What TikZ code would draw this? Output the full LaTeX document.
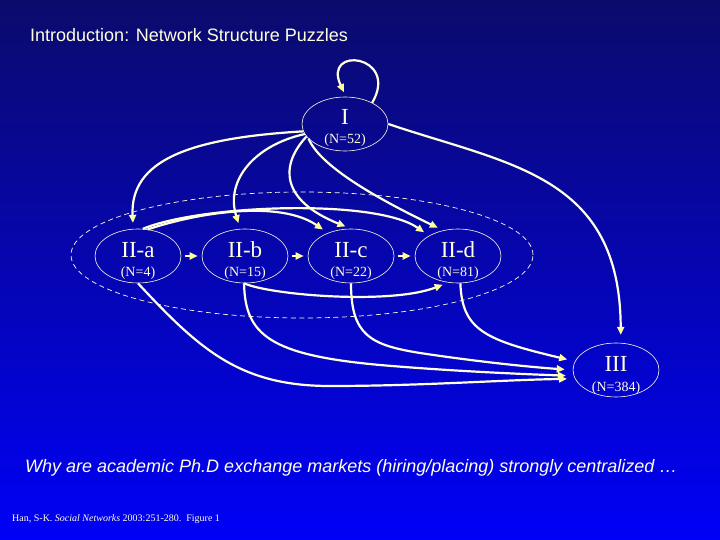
\documentclass[tikz,border=0pt]{standalone}
\usepackage{fontspec}
\setmainfont{Liberation Serif}
\setsansfont{Liberation Sans}
\usetikzlibrary{shapes.geometric,arrows.meta}

\definecolor{puzzlenuit}{HTML}{0B0B6C}
\definecolor{puzzlebleu}{HTML}{0000F8}
\definecolor{puzzlecreme}{HTML}{FFFFE0}
\definecolor{puzzlejaune}{HTML}{FFFF99}

\begin{document}
\begin{tikzpicture}[x=1pt, y=-1pt,
  etat/.style={ellipse, draw=puzzlecreme, line width=0.6pt, minimum width=86pt,
      minimum height=54pt, inner sep=0pt, text=puzzlecreme,
      font=\fontsize{23}{23}\selectfont, text height=8pt, text depth=6pt},
  compte/.style={anchor=base, inner sep=0pt, text=puzzlecreme,
      font=\fontsize{14}{14}\selectfont},
  groupe/.style={ellipse, draw=puzzlecreme, line width=0.7pt,
      dash pattern=on 5pt off 3.5pt, minimum width=462pt, minimum height=126pt, inner sep=0pt},
  fleche/.style={draw=puzzlecreme, line width=2.2pt, shorten >=6pt,
      -{Triangle[length=8pt, width=7pt, color=puzzlejaune]}},
  courte/.style={fleche, line width=1.8pt, shorten <=4pt, shorten >=4pt},
  versIII/.style={fleche, shorten >=8pt},
  ecrit/.style={anchor=base west, inner sep=0pt, text=puzzlecreme}]

\shade[top color=puzzlenuit, bottom color=puzzlebleu] (0,0) rectangle (720,540);

\node[ecrit, font=\sffamily\fontsize{18}{18}\selectfont] (titre) at (30,42)
  {Introduction: Network Structure Puzzles};

\node[groupe] (groupe) at (302,255) {};

\node[etat] (I) at (345,124) {I};
\node[compte] (nI) at ([yshift=-20pt]I.center) {(N=52)};
\node[etat] (IIa) at (138,256) {II-a};
\node[compte] (nIIa) at ([yshift=-20pt]IIa.center) {(N=4)};
\node[etat] (IIb) at (245,256) {II-b};
\node[compte] (nIIb) at ([yshift=-20pt]IIb.center) {(N=15)};
\node[etat] (IIc) at (351,256) {II-c};
\node[compte] (nIIc) at ([yshift=-20pt]IIc.center) {(N=22)};
\node[etat] (IId) at (458,256) {II-d};
\node[compte] (nIId) at ([yshift=-20pt]IId.center) {(N=81)};
\node[etat] (III) at (616,370) {III};
\node[compte] (nIII) at ([yshift=-21pt]III.center) {(N=384)};

\draw[fleche, shorten >=5pt] (I.38) .. controls (400,55) and (322,45) .. (I.88);
\draw[fleche] (I.190) .. controls (190,138) and (130,160) .. (IIa.100);
\draw[fleche] (I.194) .. controls (255,145) and (225,180) .. (IIb.100);
\draw[fleche] (I.198) .. controls (280,165) and (280,200) .. (IIc.north);
\draw[fleche] (I.202) .. controls (320,165) and (370,195) .. (IId.120);
\draw[versIII] (I.east) .. controls (510,165) and (620,175) .. (III.80);

\draw[fleche] (IIa.70) .. controls (200,212) and (280,200) .. (IIc.135);
\draw[fleche] (IIa.80) .. controls (200,205) and (375,198) .. (IId.145);
\draw[courte] (IIa.east) -- (IIb.west);
\draw[courte] (IIb.east) -- (IIc.west);
\draw[courte] (IIc.east) -- (IId.west);
\draw[fleche] (IIb.268) .. controls (270,295) and (390,305) .. (IId.250);

\draw[versIII] (IIa.south) .. controls (200,350) and (240,386) .. (330,386)
  .. controls (420,386) and (500,380) .. (III.192);
\draw[versIII] (IIb.268) .. controls (245,335) and (270,355) .. (380,365)
  .. controls (450,371) and (520,374) .. (III.188);
\draw[versIII] (IIc.south) .. controls (351,335) and (370,345) .. (420,353)
  .. controls (480,362) and (530,367) .. (III.180);
\draw[versIII] (IId.275) .. controls (462,330) and (485,340) .. (III.168);

\node[ecrit, font=\sffamily\itshape\fontsize{18}{18}\selectfont] (question) at (25,472)
  {Why are academic Ph.D exchange markets (hiring/placing) strongly centralized …};
\node[ecrit, font=\fontsize{10}{10}\selectfont] (source) at (12,521)
  {Han, S-K. \textit{Social Networks} 2003:251-280.~~Figure 1};
\end{tikzpicture}
\end{document}
